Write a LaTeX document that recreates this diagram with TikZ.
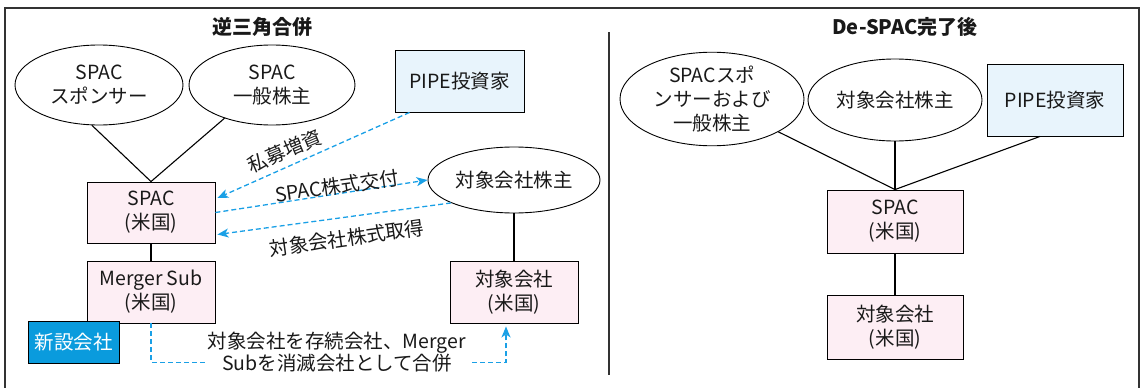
\documentclass[tikz,border=0pt]{standalone}
\usepackage{fontspec}
\setmainfont{Noto Sans CJK JP}
\usetikzlibrary{shapes.geometric,arrows.meta,calc}
\definecolor{pinkfill}{HTML}{FDEEF4}
\definecolor{bluefill}{HTML}{E8F4FC}
\definecolor{azure}{HTML}{0A9BDD}
\definecolor{arrowblue}{HTML}{1AA0E6}
\definecolor{framegray}{HTML}{333333}
\tikzset{
  base/.style={font=\fontsize{19.5}{24}\selectfont, align=center, text=black!90, inner sep=0pt},
  oval/.style={base, ellipse, draw, line width=0.9pt},
  pinkbox/.style={base, rectangle, draw, line width=0.9pt, fill=pinkfill},
  bluebox/.style={base, rectangle, draw, line width=0.9pt, fill=bluefill},
  newbox/.style={base, rectangle, draw, line width=0.9pt, fill=azure, text=white},
  conn/.style={line width=1.1pt},
  flow/.style={arrowblue, line width=1.3pt, dash pattern=on 5pt off 3pt, -{Stealth[length=11pt,width=9pt,inset=3pt]}},
  lab/.style={base, font=\fontsize{19.5}{22}\selectfont},
  ttl/.style={base, font=\fontsize{20}{24}\selectfont\bfseries},
}
\begin{document}
\begin{tikzpicture}[x=1pt,y=-1pt]
\useasboundingbox (0,0) rectangle (1146,388);
% frame and divider
\draw[framegray, line width=1.3pt] (5,388) -- (5,8) -- (1139,8) -- (1139,388);
\draw[framegray, line width=1.3pt] (609,32) -- (609,375);
% titles
\node[ttl] (t1) at (262,27) {逆三角合併};
\node[ttl] (t2) at (905,27) {De-SPAC完了後};
% left panel
\node[oval, minimum width=168pt, minimum height=80pt] (le1) at (99,85) {SPAC\\スポンサー};
\node[oval, minimum width=166pt, minimum height=80pt] (le2) at (272,85) {SPAC\\一般株主};
\node[bluebox, minimum width=129pt, minimum height=62pt] (lpipe) at (459.5,81) {PIPE投資家};
\node[pinkbox, minimum width=128pt, minimum height=61pt] (lspac) at (151,212.5) {SPAC\\(米国)};
\node[pinkbox, minimum width=128pt, minimum height=62pt] (lms) at (151,292) {Merger Sub\\(米国)};
\node[newbox, minimum width=91pt, minimum height=42pt] (lnew) at (73.5,342) {新設会社};
\node[oval, minimum width=172pt, minimum height=66pt] (ltsh) at (514,180) {対象会社株主};
\node[pinkbox, minimum width=128pt, minimum height=62pt] (ltc) at (514,292) {対象会社\\(米国)};
\draw[conn] (le1.-100) -- (lspac.north);
\draw[conn] (le2.-145) -- (lspac.north);
\draw[conn] (lspac.south) -- (lms.north);
\draw[conn] (ltsh.south) -- (ltc.north);
\draw[flow] ($(lpipe.south west)+(15,0)$) -- ($(lspac.east)+(2,-14.5)$);
\draw[flow] (lspac.east) -- (ltsh.west);
\draw[flow] (ltsh.-160) -- ($(lspac.east)+(2,22)$);
\node[lab, rotate=23] (l1) at (285,151) {私募増資};
\node[lab, rotate=8] (l2) at (337,186) {SPAC株式交付};
\node[lab, rotate=8] (l3) at (347,238) {対象会社株式取得};
\draw[flow, shorten >=3pt] (lms.south) -- ++(0,39) -| ($(ltc.south)+(-8,0)$);
\node[lab, fill=white, inner xsep=3pt, inner ysep=2pt] (mtext) at (337,352) {対象会社を存続会社、Merger\\Subを消滅会社として合併};
% right panel
\node[oval, minimum width=184pt, minimum height=82pt] (re1) at (712,99) {SPACスポ\\ンサーおよび\\一般株主};
\node[oval, minimum width=174pt, minimum height=82pt] (re2) at (895,100) {対象会社株主};
\node[bluebox, minimum width=136pt, minimum height=72pt] (rpipe) at (1055,100) {PIPE投資家};
\node[pinkbox, minimum width=136pt, minimum height=63pt] (rspac) at (895,221.5) {SPAC\\(米国)};
\node[pinkbox, minimum width=136pt, minimum height=64pt] (rtc) at (895,327.5) {対象会社\\(米国)};
\draw[conn] (re1) -- (rspac.north);
\draw[conn] (re2.south) -- (rspac.north);
\draw[conn] ($(rpipe.south)+(-15,0)$) -- (rspac.north);
\draw[conn] (rspac.south) -- (rtc.north);
\end{tikzpicture}
\end{document}
